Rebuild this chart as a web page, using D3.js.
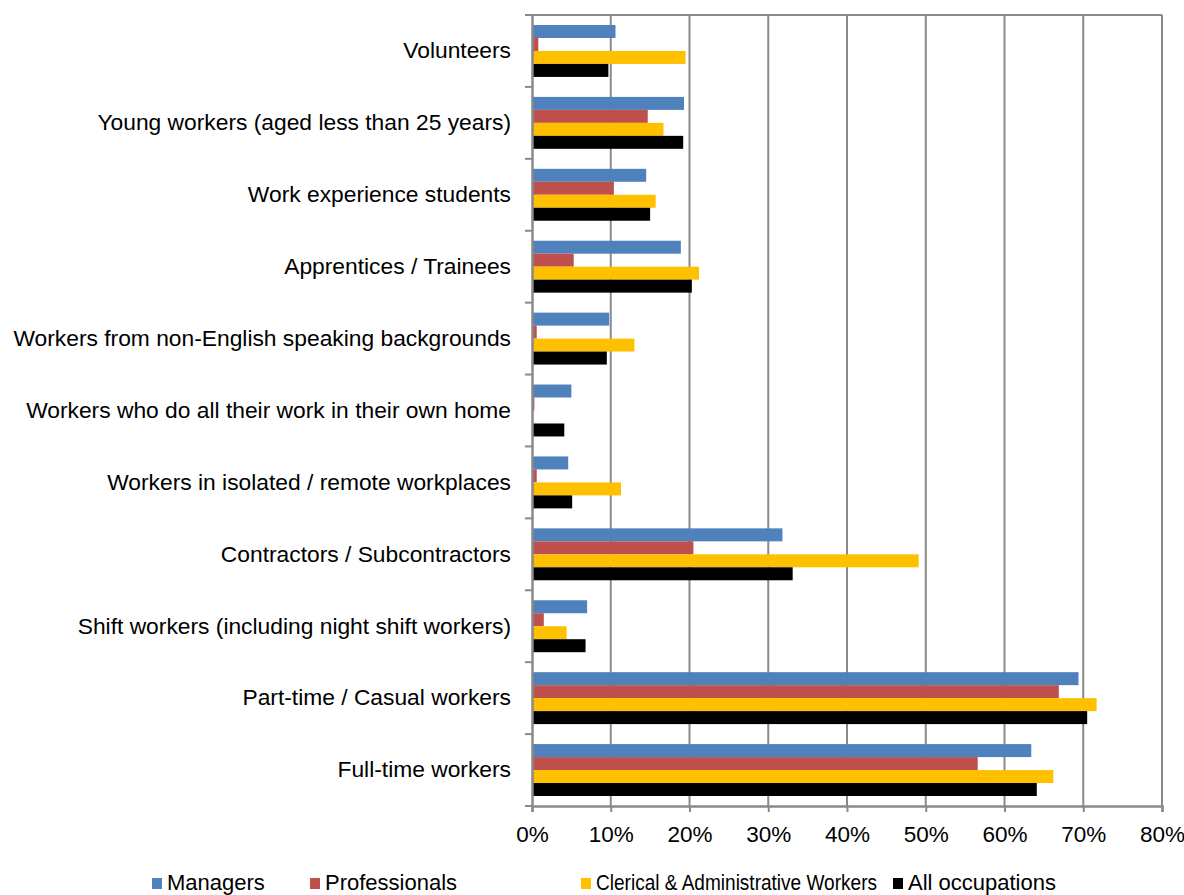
<!DOCTYPE html>
<html>
<head>
<meta charset="utf-8">
<script src="https://cdn.jsdelivr.net/npm/d3@7"></script>
<style>
  body { margin: 0; background: #fff; }
  text { font-family: Arial, "Liberation Sans", sans-serif; }
</style>
</head>
<body>
<svg id="chart" width="1184" height="895"></svg>
<script>
const categories = [
  "Volunteers",
  "Young workers (aged less than 25 years)",
  "Work experience students",
  "Apprentices / Trainees",
  "Workers from non-English speaking backgrounds",
  "Workers who do all their work in their own home",
  "Workers in isolated / remote workplaces",
  "Contractors / Subcontractors",
  "Shift workers (including night shift workers)",
  "Part-time / Casual workers",
  "Full-time workers"
];
const seriesNames = ["Managers", "Professionals", "Clerical & Administrative Workers", "All occupations"];
const managers      = [10.6, 19.3, 14.5, 18.9, 9.8, 5.0, 4.6, 31.8, 7.0, 69.4, 63.4];
const professionals = [0.8, 14.7, 10.4, 5.3, 0.6, 0.3, 0.6, 20.5, 1.5, 66.9, 56.6];
const clerical      = [19.5, 16.7, 15.7, 21.2, 13.0, 0.0, 11.3, 49.1, 4.4, 71.7, 66.2];
const allOcc        = [9.7, 19.2, 15.0, 20.3, 9.5, 4.1, 5.1, 33.1, 6.8, 70.5, 64.1];
const seriesColors  = ["#4F81BD", "#C0504D", "#FFC000", "#000000"];
const xTicks = [0, 10, 20, 30, 40, 50, 60, 70, 80];

const seriesValues = [managers, professionals, clerical, allOcc];
const svg = d3.select("#chart");
const mLeft = 532, mRight = 1162, mTop = 15, mBottom = 806;

const x = d3.scaleLinear().domain([0, 80]).range([mLeft, mRight]);
const y0 = d3.scaleBand().domain(categories).range([mTop, mBottom]).paddingInner(0).paddingOuter(0);
const y1 = d3.scaleBand().domain(seriesNames).range([0, y0.bandwidth()]).paddingInner(0).paddingOuter(0.77);

const gridColor = "#898989";

// gridlines
svg.append("g").selectAll("line").data(xTicks.slice(1)).join("line")
  .attr("x1", d => x(d)).attr("x2", d => x(d))
  .attr("y1", mTop).attr("y2", mBottom)
  .attr("stroke", gridColor).attr("stroke-width", 2);
// top border
svg.append("line").attr("x1", mLeft).attr("x2", mRight).attr("y1", mTop).attr("y2", mTop)
  .attr("stroke", gridColor).attr("stroke-width", 2);

// bars
const rows = [];
categories.forEach((c, i) => seriesNames.forEach((s, j) => rows.push({c, s, j, v: seriesValues[j][i]})));
svg.append("g").selectAll("rect").data(rows).join("rect")
  .attr("x", x(0))
  .attr("y", d => y0(d.c) + y1(d.s))
  .attr("width", d => x(d.v) - x(0))
  .attr("height", y1.bandwidth())
  .attr("fill", d => seriesColors[d.j]);

// x axis
const xAxis = svg.append("g").attr("transform", `translate(0,${mBottom})`)
  .call(d3.axisBottom(x).tickValues(xTicks).tickFormat(d => d + "%").tickSize(6).tickPadding(14));
xAxis.select(".domain").attr("stroke", gridColor).attr("stroke-width", 2.5);
xAxis.selectAll(".tick line").attr("stroke", gridColor).attr("stroke-width", 2);
xAxis.selectAll("text").attr("font-size", 22.5).attr("fill", "#000")
  .attr("font-family", "Arial, 'Liberation Sans', sans-serif");

// y axis
const yAxis = svg.append("g").attr("transform", `translate(${mLeft},0)`)
  .call(d3.axisLeft(y0).tickSize(0).tickPadding(21));
yAxis.select(".domain").attr("stroke", gridColor).attr("stroke-width", 2.5);
yAxis.selectAll("text").attr("font-size", 22.8).attr("fill", "#000")
  .attr("font-family", "Arial, 'Liberation Sans', sans-serif");
// boundary ticks
const bounds = categories.map(c => y0(c)).concat([mBottom]);
svg.append("g").selectAll("line").data(bounds).join("line")
  .attr("x1", mLeft - 7).attr("x2", mLeft).attr("y1", d => d).attr("y2", d => d)
  .attr("stroke", gridColor).attr("stroke-width", 2);

// legend
const legendX = [152, 310, 581, 893];
const lg = svg.append("g").selectAll("g").data(seriesNames).join("g")
  .attr("transform", (d, i) => `translate(${legendX[i]},883)`);
lg.append("rect").attr("x", 0).attr("y", -5).attr("width", 10).attr("height", 11)
  .attr("fill", (d, i) => seriesColors[i]);
lg.append("text").attr("x", 15).attr("y", 0).attr("dy", "0.33em")
  .attr("font-size", 22).attr("fill", "#000").text(d => d)
  .each(function(d, i) {
    if (i < legendX.length - 1) {
      const avail = legendX[i + 1] - legendX[i] - 15 - 16;
      const len = this.getComputedTextLength();
      if (len > avail) d3.select(this).attr("textLength", avail).attr("lengthAdjust", "spacingAndGlyphs");
    }
  });
</script>
</body>
</html>
